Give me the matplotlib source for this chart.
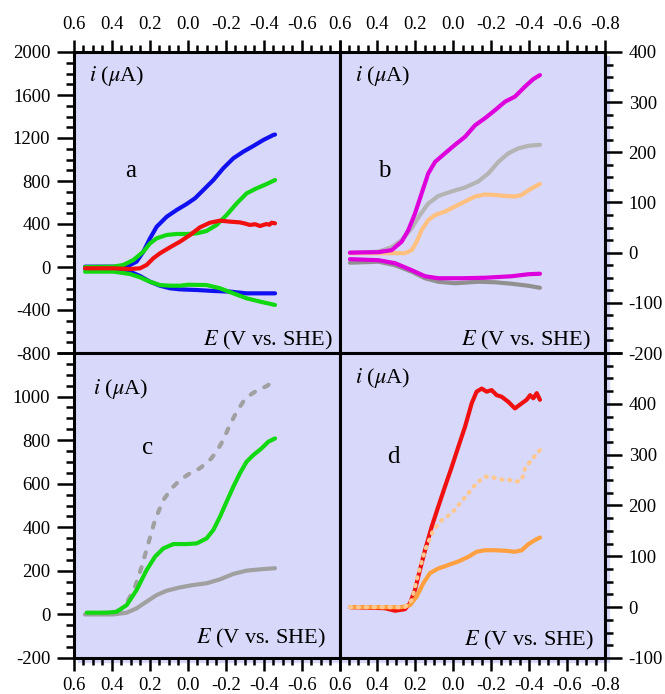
import matplotlib
matplotlib.use("Agg")
import matplotlib.pyplot as plt
from matplotlib.patches import Rectangle
from matplotlib.ticker import MultipleLocator, FixedLocator, FixedFormatter

plt.rcParams['font.family'] = ['Liberation Serif', 'DejaVu Serif']
plt.rcParams['mathtext.fontset'] = 'stix'
plt.rcParams['axes.unicode_minus'] = False
plt.rcParams['xtick.labelsize'] = 13.5
plt.rcParams['ytick.labelsize'] = 13.5

# ---- panel a (left axis, uA) ----
a_blue_fwd_E = [0.542, 0.393, 0.322, 0.270, 0.234, 0.199, 0.164, 0.111, 0.059, 0.006, -0.038, -0.082, -0.135, -0.187, -0.240, -0.293, -0.346, -0.398, -0.451, -0.46]
a_blue_fwd_i = [3, 3, 3, 50, 143, 267, 375, 468, 530, 586, 639, 716, 809, 918, 1011, 1073, 1126, 1181, 1228, 1232]
a_green_fwd_E = [0.542, 0.393, 0.340, 0.287, 0.234, 0.199, 0.164, 0.111, 0.059, 0.006, -0.047, -0.099, -0.152, -0.205, -0.258, -0.310, -0.363, -0.416, -0.460]
a_green_fwd_i = [0, 3, 19, 65, 143, 220, 267, 298, 307, 307, 313, 335, 391, 484, 592, 685, 732, 772, 809]
a_red_E = [0.542, 0.393, 0.305, 0.252, 0.217, 0.182, 0.147, 0.094, 0.041, -0.012, -0.064, -0.117, -0.170, -0.222, -0.275, -0.300, -0.328, -0.355, -0.381, -0.400, -0.416, -0.430, -0.442, -0.46]
a_red_i = [-12, -12, -19, -12, 19, 81, 127, 183, 236, 298, 369, 412, 431, 422, 415, 405, 391, 398, 381, 392, 400, 393, 412, 406]
a_blue_rev_E = [0.542, 0.393, 0.305, 0.252, 0.199, 0.147, 0.094, 0.041, -0.047, -0.135, -0.222, -0.310, -0.46]
a_blue_rev_i = [-12, -19, -43, -84, -137, -174, -198, -208, -214, -223, -229, -245, -245]
a_green_rev_E = [0.542, 0.393, 0.305, 0.252, 0.199, 0.147, 0.094, 0.041, 0.0, -0.099, -0.170, -0.240, -0.310, -0.381, -0.46]
a_green_rev_i = [-43, -43, -65, -96, -137, -168, -174, -174, -165, -168, -198, -245, -291, -322, -353]

# ---- panel b (right axis, uA) ----
b_mag_fwd_E = [0.545, 0.395, 0.325, 0.272, 0.237, 0.202, 0.167, 0.132, 0.096, 0.044, -0.009, -0.062, -0.115, -0.167, -0.220, -0.273, -0.325, -0.378, -0.422, -0.457]
b_mag_fwd_i = [0, 1, 5, 22, 45, 78, 118, 158, 181, 198, 215, 231, 254, 268, 284, 301, 311, 331, 346, 354]
b_lgray_E = [0.545, 0.395, 0.325, 0.272, 0.219, 0.176, 0.132, 0.079, 0.009, -0.062, -0.132, -0.185, -0.238, -0.290, -0.343, -0.396, -0.457]
b_lgray_i = [0, 2, 11, 25, 49, 75, 98, 113, 122, 130, 142, 158, 181, 198, 208, 213, 215]
b_lorange_E = [0.545, 0.255, 0.219, 0.193, 0.167, 0.132, 0.096, 0.044, -0.009, -0.062, -0.115, -0.167, -0.220, -0.273, -0.325, -0.361, -0.387, -0.413, -0.457]
b_lorange_i = [-1, -1, 5, 22, 45, 65, 75, 82, 92, 102, 112, 116, 115, 113, 112, 115, 122, 128, 137]
b_mag_rev_E = [0.545, 0.395, 0.307, 0.219, 0.149, 0.079, -0.044, -0.167, -0.308, -0.396, -0.457]
b_mag_rev_i = [-13, -15, -21, -35, -47, -51, -51, -50, -47, -43, -42]
b_gray_rev_E = [0.545, 0.395, 0.307, 0.219, 0.149, 0.079, -0.009, -0.132, -0.220, -0.308, -0.396, -0.457]
b_gray_rev_i = [-20, -18, -25, -38, -51, -58, -61, -58, -59, -62, -66, -70]

# ---- panel c (left axis, uA) ----
c_green_E = [0.533, 0.428, 0.375, 0.322, 0.270, 0.217, 0.173, 0.129, 0.076, 0.006, -0.047, -0.099, -0.135, -0.170, -0.205, -0.240, -0.275, -0.310, -0.346, -0.389, -0.425, -0.460]
c_green_i = [8, 8, 12, 43, 112, 204, 265, 303, 323, 323, 326, 349, 388, 449, 518, 586, 648, 701, 732, 762, 793, 808]
c_dash_E = [0.533, 0.428, 0.357, 0.314, 0.278, 0.243, 0.208, 0.173, 0.129, 0.085, 0.041, -0.012, -0.064, -0.117, -0.152, -0.187, -0.222, -0.258, -0.293, -0.328, -0.363, -0.416, -0.460]
c_dash_i = [5, 8, 20, 66, 127, 219, 326, 433, 525, 579, 617, 648, 671, 709, 747, 801, 870, 931, 977, 1007, 1027, 1048, 1076]
c_gray_E = [0.542, 0.393, 0.322, 0.270, 0.217, 0.164, 0.111, 0.041, -0.029, -0.099, -0.170, -0.240, -0.310, -0.381, -0.460]
c_gray_i = [0, 0, 8, 28, 59, 89, 109, 124, 135, 143, 161, 186, 201, 207, 212]

# ---- panel d (right axis, uA) ----
d_red_E = [0.545, 0.360, 0.307, 0.255, 0.228, 0.202, 0.176, 0.149, 0.114, 0.079, 0.044, 0.008, -0.027, -0.062, -0.097, -0.123, -0.150, -0.176, -0.202, -0.229, -0.255, -0.290, -0.325, -0.361, -0.387, -0.405, -0.422, -0.440, -0.457]
d_red_i = [0, -2, -7, -4, 8, 34, 73, 112, 158, 198, 237, 276, 316, 355, 401, 424, 430, 424, 427, 417, 414, 404, 391, 401, 408, 417, 411, 421, 408]
d_orange_E = [0.545, 0.272, 0.228, 0.193, 0.158, 0.123, 0.079, 0.026, -0.027, -0.079, -0.123, -0.167, -0.220, -0.273, -0.325, -0.361, -0.396, -0.431, -0.457]
d_orange_i = [0, 0, 4, 21, 47, 67, 76, 83, 90, 99, 109, 112, 112, 111, 109, 112, 124, 132, 137]
d_lorange_E = [0.545, 0.255, 0.219, 0.184, 0.149, 0.105, 0.061, 0.008, -0.035, -0.079, -0.123, -0.167, -0.211, -0.255, -0.299, -0.334, -0.361, -0.378, -0.413, -0.457]
d_lorange_i = [0, 0, 14, 67, 112, 152, 171, 185, 204, 224, 244, 257, 255, 251, 250, 247, 250, 273, 290, 309]

xticks = [0.6, 0.4, 0.2, 0.0, -0.2, -0.4, -0.6, -0.8]
bg = '#d8d8fa'
W, H = 665, 694

fig = plt.figure(figsize=(6.65, 6.94), dpi=100)


def px_rect(x0, y0, x1, y1):
    return [x0 / W, 1 - y1 / H, (x1 - x0) / W, (y1 - y0) / H]


# drop shadow behind the plot block
fig.patches.append(Rectangle((78 / W, 1 - 662 / H), 531 / W, 606 / H,
                             transform=fig.transFigure, color=bg, zorder=-5))

ax_a = fig.add_axes(px_rect(74, 52, 339.5, 353))
ax_b = fig.add_axes(px_rect(339.5, 52, 605, 353))
ax_c = fig.add_axes(px_rect(74, 353, 339.5, 658))
ax_d = fig.add_axes(px_rect(339.5, 353, 605, 658))


def style(ax, top, left, ylim, ymajor, yminor, ylabels):
    ax.set_facecolor(bg)
    ax.set_xlim(0.6, -0.8)
    ax.set_ylim(*ylim)
    for s in ax.spines.values():
        s.set_linewidth(2.2)
    ax.xaxis.set_major_locator(FixedLocator(xticks))
    labs = ['%.1f' % v for v in xticks]
    if left:
        labs[-1] = ''
    ax.xaxis.set_major_formatter(FixedFormatter(labs))
    ax.xaxis.set_minor_locator(MultipleLocator(0.05))
    ax.yaxis.set_major_locator(FixedLocator(ymajor))
    ax.yaxis.set_major_formatter(FixedFormatter(ylabels))
    ax.yaxis.set_minor_locator(MultipleLocator(yminor))
    ax.tick_params(axis='x', which='both', direction='out', width=1.8,
                   top=top, bottom=not top, labeltop=top, labelbottom=not top)
    ax.tick_params(axis='x', which='major', length=9, pad=5, labelsize=13.5)
    ax.tick_params(axis='x', which='minor', length=5)
    ax.tick_params(axis='y', which='both', direction='out', width=1.8,
                   left=left, right=not left, labelleft=left, labelright=not left)
    ax.tick_params(axis='y', which='major', length=12, pad=5, labelsize=13.5)
    ax.tick_params(axis='y', which='minor', length=6)


ya = list(range(-800, 2001, 400))
style(ax_a, True, True, (-800, 2000), ya, 100, [str(v) for v in ya])
yb = list(range(-200, 401, 100))
style(ax_b, True, False, (-200, 400), yb, 25, [str(v) for v in yb])
yc = list(range(-200, 1201, 200))
style(ax_c, False, True, (-200, 1200), yc, 50, [str(v) for v in yc[:-1]] + [''])
yd = list(range(-100, 501, 100))
style(ax_d, False, False, (-100, 500), yd, 25, [str(v) for v in yd[:-1]] + [''])

lw = 3.0
kw = dict(lw=lw, solid_capstyle='round', solid_joinstyle='round')
ax_a.plot(a_blue_rev_E, a_blue_rev_i, color='#1010f0', **kw)
ax_a.plot(a_green_rev_E, a_green_rev_i, color='#11d811', **kw)
ax_a.plot(a_blue_fwd_E, a_blue_fwd_i, color='#1010f0', **kw)
ax_a.plot(a_green_fwd_E, a_green_fwd_i, color='#11d811', **kw)
ax_a.plot(a_red_E, a_red_i, color='#f01010', **kw)

ax_b.plot(b_gray_rev_E, b_gray_rev_i, color='#909090', **kw)
ax_b.plot(b_mag_rev_E, b_mag_rev_i, color='#dd00dd', **kw)
ax_b.plot(b_lgray_E, b_lgray_i, color='#b4b4b4', **kw)
ax_b.plot(b_lorange_E, b_lorange_i, color='#ffc080', **kw)
ax_b.plot(b_mag_fwd_E, b_mag_fwd_i, color='#dd00dd', **kw)

ax_c.plot(c_gray_E, c_gray_i, color='#a0a0a0', **kw)
ax_c.plot(c_dash_E, c_dash_i, color='#a0a0a0', lw=lw, dashes=(1.2, 2.5),
          dash_capstyle='round')
ax_c.plot(c_green_E, c_green_i, color='#11d811', **kw)

ax_d.plot(d_red_E, d_red_i, color='#f01010', **kw)
ax_d.plot(d_orange_E, d_orange_i, color='#ffa040', **kw)
ax_d.plot(d_lorange_E, d_lorange_i, color='#ffc890', lw=lw, dashes=(0.3, 1.6),
          dash_capstyle='round')


def ftext(x, y, s, **kw):
    fig.text(x / W, 1 - y / H, s, **kw)


for (x, y) in [(89, 76), (355, 76), (93, 389), (355, 378)]:
    ftext(x, y, r'$i$ ($\mu$A)', fontsize=16, ha='left', va='center')
for (x, y) in [(333, 340), (591, 340), (326, 638), (594, 640)]:
    ftext(x, y, r'$E$ (V vs. SHE)', fontsize=16, ha='right', va='center')
for (x, y, s) in [(131, 171, 'a'), (384, 171, 'b'), (148, 448, 'c'), (393, 457, 'd')]:
    ftext(x, y, s, fontsize=18, ha='center', va='center')

fig.savefig('out.png', dpi=100)
